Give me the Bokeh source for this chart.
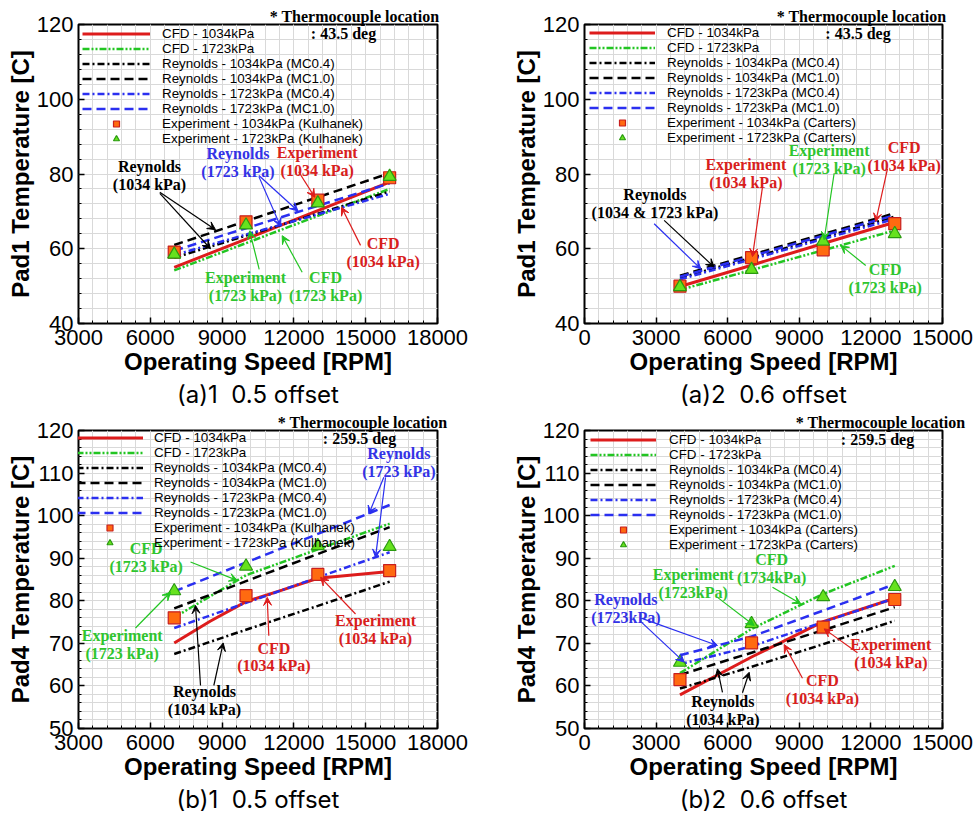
import numpy as np
from bokeh.plotting import figure
from bokeh.models import (Range1d, FixedTicker, Legend, LegendItem, Label, Arrow,
                          VeeHead, Title)
from bokeh.layouts import column, row
from bokeh.embed import file_html
from bokeh.resources import INLINE

# ---------------- data ----------------
# (a)1 Pad1, 0.5 offset
a1_speed = [7000, 10000, 13000, 16000]
a1_cfd_1034 = [55.0, 62.6, 70.2, 77.8]
a1_cfd_1723 = [54.2, 61.5, 68.8, 76.0]
a1_rey_1034_mc04 = [57.6, 63.5, 69.4, 75.3]
a1_rey_1034_mc10 = [61.0, 67.4, 73.8, 80.2]
a1_rey_1723_mc04 = [58.3, 63.8, 69.2, 74.7]
a1_rey_1723_mc10 = [59.5, 65.5, 71.5, 77.5]
a1_exp_1034 = [59.1, 67.2, 73.0, 79.0]
a1_exp_1723 = [58.5, 66.3, 72.2, 79.3]

# (a)2 Pad1, 0.6 offset
a2_speed = [4000, 7000, 10000, 13000]
a2_cfd_1034 = [49.9, 55.6, 61.4, 67.1]
a2_cfd_1723 = [49.0, 54.3, 59.6, 64.9]
a2_rey_1034_mc04 = [52.2, 57.6, 63.0, 68.6]
a2_rey_1034_mc10 = [52.8, 58.4, 63.9, 69.5]
a2_rey_1723_mc04 = [51.8, 57.2, 62.6, 68.0]
a2_rey_1723_mc10 = [52.5, 58.0, 63.5, 69.0]
a2_exp_1034 = [50.0, 57.6, 59.7, 66.7]
a2_exp_1723 = [49.8, 54.4, 62.0, 64.0]

# (b)1 Pad4, 0.5 offset
b1_speed = [7000, 10000, 13000, 16000]
b1_cfd_speed = [7000, 8500, 10000, 11500, 13000, 16000]
b1_cfd_1034 = [70.1, 75.2, 79.8, 82.5, 85.3, 86.9]
b1_cfd_1723 = [76.1, 86.0, 92.1, 98.1]
b1_rey_1034_mc04 = [67.5, 73.2, 78.8, 84.5]
b1_rey_1034_mc10 = [78.2, 84.6, 91.0, 97.3]
b1_rey_1723_mc04 = [73.6, 79.5, 85.5, 91.4]
b1_rey_1723_mc10 = [82.2, 89.0, 95.7, 102.5]
b1_exp_1034 = [76.0, 81.2, 86.2, 87.1]
b1_exp_1723 = [82.3, 88.1, 92.9, 92.7]

# (b)2 Pad4, 0.6 offset
b2_speed = [4000, 7000, 10000, 13000]
b2_cfd_1034 = [57.9, 66.8, 75.1, 80.6]
b2_cfd_1723 = [63.0, 73.4, 81.6, 88.2]
b2_rey_1034_mc04 = [59.4, 64.5, 69.8, 75.3]
b2_rey_1034_mc10 = [62.6, 67.8, 73.1, 78.5]
b2_rey_1723_mc04 = [65.1, 69.3, 75.0, 80.6]
b2_rey_1723_mc10 = [67.2, 71.6, 77.7, 83.9]
b2_exp_1034 = [61.5, 70.1, 73.8, 80.3]
b2_exp_1723 = [65.5, 74.6, 80.9, 83.3]

# axes ticks
xticks_a1 = [3000, 6000, 9000, 12000, 15000, 18000]
xticks_a2 = [0, 3000, 6000, 9000, 12000, 15000]
yticks_pad1 = [40, 60, 80, 100, 120]
yticks_pad4 = [50, 60, 70, 80, 90, 100, 110, 120]

legend_labels = ["CFD - 1034kPa", "CFD - 1723kPa",
                 "Reynolds - 1034kPa (MC0.4)", "Reynolds - 1034kPa (MC1.0)",
                 "Reynolds - 1723kPa (MC0.4)", "Reynolds - 1723kPa (MC1.0)",
                 "Experiment - 1034kPa", "Experiment - 1723kPa"]

# ---------------- styles ----------------
RED = "#dd1c1c"
GREEN = "#22c522"
BLUE = "#2a2ff0"
ORANGE = "#ff6a10"
DRED = "#c81e1e"
LGREEN = "#66e21e"
DGREEN = "#2a9a10"
TXT_RED = "#d8201c"
TXT_GREEN = "#2fc52f"
TXT_BLUE = "#3333e6"
GRID = "#d9d9d9"

# annotations: (text, x, y, color), arrows: (x0, y0, x1, y1, color)
ann_a1 = [("Reynolds\n(1034 kPa)", 5967, 79.5, "black"),
          ("Reynolds\n(1723 kPa)", 9665, 83.0, TXT_BLUE),
          ("Experiment\n(1034 kPa)", 12975, 83.3, TXT_RED),
          ("CFD\n(1034 kPa)", 15731, 59.1, TXT_RED),
          ("Experiment\n(1723 kPa)", 9979, 50.0, TXT_GREEN),
          ("CFD\n(1723 kPa)", 13322, 49.8, TXT_GREEN)]
arr_a1 = [(6398, 75.1, 8725, 65.1, "black"), (6398, 74.8, 8516, 60.0, "black"),
          (10536, 79.6, 12170, 70.1, BLUE), (10536, 79.3, 11441, 66.0, BLUE),
          (12200, 80.6, 12870, 73.8, RED), (14784, 60.9, 13990, 71.1, RED),
          (10550, 54.5, 10150, 64.8, GREEN), (12345, 53.7, 11511, 63.5, GREEN)]

ann_a2 = [("Reynolds\n(1034 & 1723 kPa)", 2950, 72.0, "black"),
          ("Experiment\n(1034 kPa)", 6759, 80.2, TXT_RED),
          ("Experiment\n(1723 kPa)", 10250, 83.9, TXT_GREEN),
          ("CFD\n(1034 kPa)", 13392, 84.7, TXT_RED),
          ("CFD\n(1723 kPa)", 12597, 52.0, TXT_GREEN)]
arr_a2 = [(3338, 67.6, 5433, 55.1, "black"), (2919, 66.7, 4874, 54.6, BLUE),
          (7457, 76.5, 7038, 57.9, RED), (10460, 80.2, 10041, 62.4, GREEN),
          (12694, 81.4, 12205, 67.3, RED), (11785, 55.5, 10738, 60.9, GREEN)]

ann_b1 = [("CFD\n(1723 kPa)", 5829, 90.1, TXT_GREEN),
          ("Experiment\n(1723 kPa)", 4826, 69.7, TXT_GREEN),
          ("Reynolds\n(1723 kPa)", 16385, 112.5, TXT_BLUE),
          ("CFD\n(1034 kPa)", 11162, 66.8, TXT_RED),
          ("Experiment\n(1034 kPa)", 15411, 73.3, TXT_RED),
          ("Reynolds\n(1034 kPa)", 8265, 56.5, "black")]
arr_b1 = [(7680, 89.1, 9632, 84.8, GREEN), (5382, 73.6, 6845, 82.0, GREEN),
          (15758, 109.0, 15131, 100.4, BLUE), (15829, 109.0, 15411, 90.2, BLUE),
          (10952, 71.8, 10885, 80.8, RED), (14575, 76.9, 13113, 85.5, RED),
          (8098, 60.1, 7889, 78.9, "black"), (8654, 60.1, 9046, 70.1, "black")]

ann_b2 = [("CFD\n(1734kPa)", 7840, 87.5, TXT_GREEN),
          ("Experiment\n(1723kPa)", 4553, 84.0, TXT_GREEN),
          ("Reynolds\n(1723kPa)", 1731, 78.2, TXT_BLUE),
          ("Experiment\n(1034 kPa)", 12834, 67.6, TXT_RED),
          ("CFD\n(1034 kPa)", 9971, 59.1, TXT_RED),
          ("Reynolds\n(1034 kPa)", 5800, 54.3, "black")]
arr_b2 = [(7876, 83.2, 9062, 79.3, GREEN), (5572, 80.8, 7109, 74.2, GREEN),
          (2430, 75.8, 5572, 69.5, BLUE), (2360, 75.1, 4175, 65.6, BLUE),
          (11437, 67.8, 10041, 73.4, RED), (9133, 61.8, 8366, 69.7, RED),
          (5781, 58.5, 5572, 64.0, "black"), (6619, 58.4, 6900, 63.2, "black")]


def build_panel(sp):
    p = figure(output_backend="svg", toolbar_location=None,
               frame_width=sp["fw"], frame_height=sp["fh"],
               x_range=Range1d(*sp["xr"]), y_range=Range1d(*sp["yr"]),
               min_border_left=sp["bl"], min_border_right=sp["br"],
               min_border_top=sp["bt"], min_border_bottom=sp["bb"])
    p.background_fill_color = "white"
    p.border_fill_color = "white"
    p.outline_line_color = "black"
    p.outline_line_width = 2
    p.outline_line_alpha = 1

    xt = sp["xticks"]
    yt = sp["yticks"]
    p.xaxis.ticker = FixedTicker(ticks=xt, minor_ticks=list(np.arange(xt[0], xt[-1] + 1, (xt[1] - xt[0]) / 5)))
    p.yaxis.ticker = FixedTicker(ticks=yt, minor_ticks=list(np.arange(yt[0], yt[-1] + 0.01, (yt[1] - yt[0]) / 5)))
    for g in (p.xgrid[0], p.ygrid[0]):
        g.grid_line_color = GRID
        g.minor_grid_line_color = GRID
        g.grid_line_width = 1
        g.minor_grid_line_width = 1

    for ax in (p.xaxis[0], p.yaxis[0]):
        ax.axis_line_color = None
        ax.major_tick_in = 6
        ax.major_tick_out = 0
        ax.minor_tick_in = 3
        ax.minor_tick_out = 0
        ax.major_tick_line_color = "black"
        ax.major_tick_line_width = 1.5
        ax.minor_tick_line_color = "black"
        ax.major_label_text_font = "Liberation Sans"
        ax.major_label_text_font_size = "22px"
        ax.major_label_text_color = "black"
        ax.axis_label_text_font = "Liberation Sans"
        ax.axis_label_text_font_size = "24px"
        ax.axis_label_text_font_style = "bold"
        ax.axis_label_text_color = "black"
        ax.axis_label_standoff = 0
    p.xaxis.major_label_standoff = 6
    p.yaxis.major_label_standoff = 5
    p.xaxis.axis_label = "Operating Speed [RPM]"
    p.yaxis.axis_label = sp["ylabel"]

    d = sp["data"]
    x = d["speed"]
    r1 = p.line(d.get("cfd_speed", x), d["cfd_1034"], line_color=RED, line_width=3)
    r2 = p.line(x, d["cfd_1723"], line_color=GREEN, line_width=2.5, line_dash="7 2 2 2 2 2")
    r3 = p.line(x, d["rey_1034_mc04"], line_color="black", line_width=2.5, line_dash="7 3 2 3")
    r4 = p.line(x, d["rey_1034_mc10"], line_color="black", line_width=2.5, line_dash="9 5")
    r5 = p.line(x, d["rey_1723_mc04"], line_color=BLUE, line_width=2.5, line_dash="7 3 2 3")
    r6 = p.line(x, d["rey_1723_mc10"], line_color=BLUE, line_width=2.5, line_dash="9 5")
    r7 = p.scatter(x, d["exp_1034"], marker="square", size=12, fill_color=ORANGE,
                   line_color=DRED, line_width=1.2)
    r8 = p.scatter(x, d["exp_1723"], marker="triangle", size=13, fill_color=LGREEN,
                   line_color=DGREEN, line_width=1.2)

    labels = legend_labels[:6] + [lab + " (" + sp["source"] + ")" for lab in legend_labels[6:]]
    items = [LegendItem(label=lab, renderers=[r]) for lab, r in
             zip(labels, [r1, r2, r3, r4, r5, r6, r7, r8])]
    leg = Legend(items=items, location=sp["leg_loc"], glyph_width=sp["gw"], glyph_height=15,
                 label_height=15, label_standoff=sp["ls"], spacing=0, padding=0, margin=0,
                 border_line_color=None, background_fill_alpha=0,
                 label_text_font="Liberation Sans", label_text_font_size="13.4px",
                 label_text_color="black")
    p.add_layout(leg)

    for (x0, y0, x1, y1, c) in sp["arrows"]:
        p.add_layout(Arrow(x_start=x0, y_start=y0, x_end=x1, y_end=y1,
                           line_color=c, line_width=1.2,
                           end=VeeHead(size=8, fill_color=c, line_color=c, line_width=1)))
    for (t, tx, ty, c) in sp["ann"]:
        p.add_layout(Label(x=tx, y=ty, text=t, text_align="center", text_baseline="middle",
                           text_font="Liberation Serif", text_font_style="bold",
                           text_font_size="16px", text_color=c, text_line_height=1.05))
    tx2, ty2 = sp["tc_pos"]
    p.add_layout(Label(x=tx2, y=ty2, text=sp["tc_angle"], text_align="center",
                       text_baseline="middle", text_font="Liberation Serif",
                       text_font_style="bold", text_font_size="16px", text_color="black"))
    p.add_layout(Title(text="* Thermocouple location", align="right", offset=sp["tc_off"],
                       text_font="Liberation Serif", text_font_style="bold",
                       text_font_size="16px", text_color="black", standoff=0), "above")

    p.add_layout(Title(text=sp["caption"], align="center", text_font="Inter",
                       text_font_size="24px", text_font_style="normal", text_color="black",
                       standoff=0), "below")
    return p


def pack(prefix):
    g = globals()
    keys = ["speed", "cfd_1034", "cfd_1723", "rey_1034_mc04", "rey_1034_mc10",
            "rey_1723_mc04", "rey_1723_mc10", "exp_1034", "exp_1723", "cfd_speed"]
    return {k: g[prefix + "_" + k] for k in keys if (prefix + "_" + k) in g}


specs = [
    dict(fw=359, fh=299, bl=78, br=59, bt=24, bb=86, xr=(3000, 18000), yr=(40, 120),
         xticks=xticks_a1, yticks=yticks_pad1, ylabel="Pad1 Temperature [C]",
         data=pack("a1"), source="Kulhanek", leg_loc=(4, 177.5), gw=68, ls=12,
         arrows=arr_a1, ann=ann_a1, tc_pos=(14074, 117.6), tc_off=-2,
         tc_angle=": 43.5 deg", caption="(a)1\u00a0 0.5 offset"),
    dict(fw=358, fh=299, bl=88, br=35, bt=24, bb=86, xr=(0, 15000), yr=(40, 120),
         xticks=xticks_a2, yticks=yticks_pad1, ylabel="Pad1 Temperature [C]",
         data=pack("a2"), source="Carters", leg_loc=(5, 178.5), gw=66, ls=12,
         arrows=arr_a2, ann=ann_a2, tc_pos=(11458, 117.6), tc_off=-4,
         tc_angle=": 43.5 deg", caption="(a)2\u00a0 0.6 offset"),
    dict(fw=359, fh=298, bl=78, br=59, bt=21, bb=86, xr=(3000, 18000), yr=(50, 120),
         xticks=xticks_a1, yticks=yticks_pad4, ylabel="Pad4 Temperature [C]",
         data=pack("b1"), source="Kulhanek", leg_loc=(-2, 178), gw=67, ls=11,
         arrows=arr_b1, ann=ann_b1, tc_pos=(14742, 118.1), tc_off=-10,
         tc_angle=": 259.5 deg", caption="(b)1\u00a0 0.5 offset"),
    dict(fw=358, fh=298, bl=88, br=35, bt=21, bb=86, xr=(0, 15000), yr=(50, 120),
         xticks=xticks_a2, yticks=yticks_pad4, ylabel="Pad4 Temperature [C]",
         data=pack("b2"), source="Carters", leg_loc=(6, 176.5), gw=66, ls=13,
         arrows=arr_b2, ann=ann_b2, tc_pos=(12275, 117.9), tc_off=-23,
         tc_angle=": 259.5 deg", caption="(b)2\u00a0 0.6 offset"),
]

panels = [build_panel(s) for s in specs]
layout = column(row(panels[0], panels[1], spacing=0), row(panels[2], panels[3], spacing=0), spacing=0)

open("out.html", "w").write(file_html(layout, INLINE))
